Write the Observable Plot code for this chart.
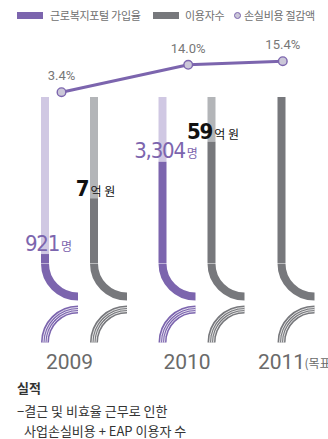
<!DOCTYPE html>
<html>
<head>
<meta charset="utf-8">
<script src="https://cdn.jsdelivr.net/npm/d3@7"></script>
<script src="https://cdn.jsdelivr.net/npm/@observablehq/plot@0.6"></script>
<style>
  html, body { margin: 0; padding: 0; background: #fff; }
  #wrap { position: relative; width: 328px; height: 439px; overflow: hidden; font-family: "Noto Sans CJK KR", "Noto Sans", sans-serif; }
  .abs { position: absolute; width: 328px; }
  .abs svg { max-width: none !important; }
  .leg { position: absolute; top: 6px; font-size: 11px; color: #6f6f6f; line-height: 18px; letter-spacing: -0.3px; white-space: nowrap; }
  .sw { position: absolute; }
  .cap { position: absolute; font-size: 13px; color: #333; line-height: 20px; white-space: nowrap; }
</style>
</head>
<body>
<div id="wrap">
  <div class="sw" style="left:17px;top:12px;width:26px;height:7px;background:#7c65ae"></div>
  <div class="leg" style="left:50px">근로복지포털 가입율</div>
  <div class="sw" style="left:153px;top:12px;width:26px;height:7px;background:#77787c"></div>
  <div class="leg" style="left:185px">이용자수</div>
  <div class="sw" style="left:234px;top:12px;width:5px;height:5px;border-radius:50%;background:#cbc7d8;border:1.2px solid #7c65ae"></div>
  <div class="leg" style="left:244px">손실비용 절감액</div>
  <div id="linechart" class="abs" style="left:0;top:25px;height:72px"></div>
  <div id="barchart" class="abs" style="left:0;top:90px;height:290px"></div>
  <div class="cap" style="left:17px;top:378px;font-weight:bold">실적</div>
  <div class="cap" style="left:17px;top:401px">−결근 및 비효율 근무로 인한</div>
  <div class="cap" style="left:24px;top:421px">사업손실비용 + EAP 이용자 수</div>
</div>
<script>
// ---- data ----
const years = [2009, 2010, 2011];
const yearLabels = ["2009", "2010", "2011"];
const targetYear = 2011;
const targetSuffix = "(목표)";

const rateValues = [3.4, 14.0, 15.4];
const rateLabels = ["3.4%", "14.0%", "15.4%"];

const userYears = [2009, 2010];
const userCounts = [921, 3304];
const userFill = [5.4, 61];      // share of bar filled (%)
const userUnit = "명";

const savingYears = [2009, 2010, 2011];
const savingAmounts = [7, 59, null];
const savingFill = [39, 73, 100]; // share of bar filled (%)
const savingUnit = "억 원";

// ---- styles ----
const PURPLE = "#7c65ae", PURPLE_LIGHT = "#d0c8e3";
const GRAY = "#77787c", GRAY_LIGHT = "#b3b5b8";
const NUM_FONT = "'Liberation Sans Narrow', 'DejaVu Sans Condensed', Roboto, sans-serif";

const rates = years.map((y, i) => ({year: y, value: rateValues[i], label: rateLabels[i]}));
const users = userYears.map((y, i) => ({year: y, value: userCounts[i], fill: userFill[i]}));
const savings = savingYears.map((y, i) => ({year: y, value: savingAmounts[i], fill: savingFill[i]}));
const yearRows = years.map((y, i) => ({year: y, label: yearLabels[i]}));

// quarter-arc curve factory (works in pixel space from the first point)
function arcCurve(offsetX, radius, a0, a1, ccw) {
  return (context) => {
    let first = true;
    return {
      areaStart() {}, areaEnd() {},
      lineStart() { first = true; },
      lineEnd() {},
      point(x, y) {
        if (!first) return;
        first = false;
        const cx = x + offsetX;
        context.moveTo(cx + radius * Math.cos(a0), y + radius * Math.sin(a0));
        context.arc(cx, y, radius, a0, a1, ccw);
      }
    };
  };
}

const R = 33, BAR_W = 8, DECO_DY = 79;

function barMarks(data, dx, dark, light) {
  const common = {x1: "year", x2: "year", y1: 0, y2: 0, dx};
  return [
    Plot.ruleX(data, {x: "year", y1: "fill", y2: 100, stroke: light, strokeWidth: BAR_W, dx}),
    Plot.ruleX(data, {x: "year", y1: 0, y2: "fill", stroke: dark, strokeWidth: BAR_W, dx}),
    Plot.link(data, {...common, stroke: dark, strokeWidth: BAR_W, curve: arcCurve(R, R, Math.PI, Math.PI / 2, true)}),
    Plot.link(data, {...common, dy: DECO_DY, stroke: dark, strokeWidth: BAR_W, curve: arcCurve(R, R, Math.PI, 1.5 * Math.PI, false)}),
    ...[-2, 0, 2].map(o => Plot.link(data, {...common, dy: DECO_DY, stroke: "#fff", strokeWidth: 0.8, curve: arcCurve(R, R + o, Math.PI, 1.5 * Math.PI, false)}))
  ];
}

// ---- line chart ----
const lineChart = Plot.plot({
  width: 328, height: 72,
  margin: 0,
  style: {background: "transparent", overflow: "visible"},
  x: {type: "linear", domain: years, range: [61, 187.7, 282.3], axis: null},
  y: {type: "linear", domain: d3.extent(rateValues), range: [66.7, 35.7], axis: null},
  marks: [
    Plot.line(rates, {x: "year", y: "value", stroke: PURPLE, strokeWidth: 3}),
    Plot.dot(rates, {x: "year", y: "value", r: 4.3, fill: "#cbc7d8", stroke: PURPLE, strokeWidth: 1.4}),
    Plot.text(rates, {x: "year", y: "value", text: "label", lineAnchor: "bottom", dy: -12, fill: "#777", fontSize: 13, fontFamily: "Roboto, sans-serif"})
  ]
});
document.getElementById("linechart").append(lineChart);

// ---- bar chart ----
const pairedSavings = savings.filter(d => userYears.includes(d.year));
const soloSavings = savings.filter(d => !userYears.includes(d.year));
const fmt = d3.format(",");

const barChart = Plot.plot({
  width: 328, height: 290,
  margin: 0,
  style: {background: "transparent", overflow: "visible"},
  x: {type: "linear", domain: years, range: [69, 186.5, 281], axis: null},
  y: {type: "linear", domain: [0, 100], range: [173, 7], axis: null},
  marks: [
    ...barMarks(users, -24.5, PURPLE, PURPLE_LIGHT),
    ...barMarks(pairedSavings, 24.5, GRAY, GRAY_LIGHT),
    ...barMarks(soloSavings, 0, GRAY, GRAY_LIGHT),
    Plot.text(users, {x: "year", y: "fill", dx: -21, dy: -4, text: d => fmt(d.value), lineAnchor: "bottom", fill: PURPLE, fontSize: 22, fontFamily: NUM_FONT, ariaDescription: "user-values"}),
    Plot.text(pairedSavings, {x: "year", y: "fill", dx: 26, dy: -3, text: d => fmt(d.value), lineAnchor: "bottom", fill: "#111", fontSize: 22, fontWeight: "bold", fontFamily: NUM_FONT, ariaDescription: "saving-values"}),
    Plot.text(yearRows, {x: "year", frameAnchor: "bottom", lineAnchor: "bottom", dy: -12, text: "label", fill: "#6a6a6a", fontSize: 21, fontFamily: "Roboto, sans-serif"}),
    Plot.text(yearRows.filter(d => d.year === targetYear), {x: "year", frameAnchor: "bottom", lineAnchor: "bottom", dy: -13, dx: 23, textAnchor: "start", text: () => targetSuffix, fill: "#6a6a6a", fontSize: 12, fontFamily: "'Noto Sans CJK KR', sans-serif"})
  ]
});
document.getElementById("barchart").append(barChart);

// append smaller unit glyphs after the numbers; tighten the number glyphs
d3.select(barChart).selectAll('g[aria-description="user-values"] text, g[aria-description="saving-values"] text')
  .attr("letter-spacing", -1.2);
d3.select(barChart).selectAll('g[aria-description="user-values"] text')
  .append("tspan").attr("font-size", 12).attr("letter-spacing", 0).attr("font-family", "'Noto Sans CJK KR', sans-serif").attr("dx", 2).text(userUnit);
d3.select(barChart).selectAll('g[aria-description="saving-values"] text')
  .append("tspan").attr("font-size", 12).attr("letter-spacing", 0).attr("font-weight", "normal").attr("font-family", "'Noto Sans CJK KR', sans-serif").attr("dx", 2).text(savingUnit);
</script>
</body>
</html>
